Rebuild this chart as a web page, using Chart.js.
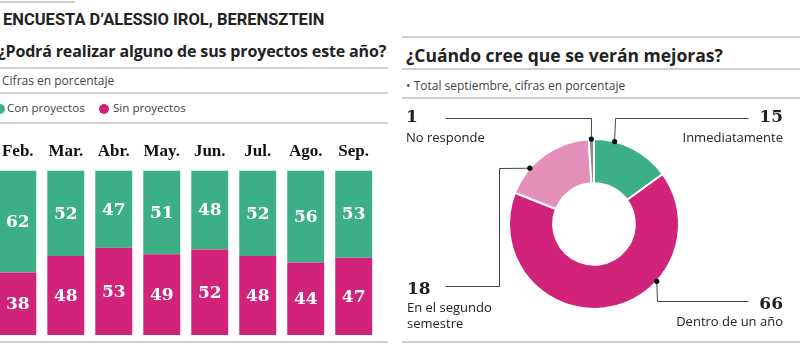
<!DOCTYPE html>
<html>
<head>
<meta charset="utf-8">
<script src="https://cdn.jsdelivr.net/npm/chart.js@4.4.0/dist/chart.umd.min.js"></script>
<style>
  body { margin:0; width:800px; height:345px; background:#fff; position:relative; overflow:hidden; font-family:'Open Sans', sans-serif; color:#222; }
  .abs { position:absolute; white-space:nowrap; }
  .rule { position:absolute; height:1.5px; background:#cfcfcf; }
  .head { font-family:Roboto, sans-serif; font-weight:700; font-size:16.5px; top:10px; left:3px; }
  .q { font-weight:700; }
  .note { font-size:12px; color:#444; }
  .dot { position:absolute; width:10px; height:10px; border-radius:50%; }
  .num { font-family:'DejaVu Serif', serif; font-weight:700; font-size:17px; color:#222; }
  .lab { font-size:13px; color:#222; line-height:16px; }
</style>
</head>
<body>
<div class="rule" style="left:0;top:1px;width:75px;"></div>
<div class="abs head">ENCUESTA D’ALESSIO IROL, BERENSZTEIN</div>

<div class="abs q" style="left:-2px;top:40px;font-size:16px;letter-spacing:-0.15px;">¿Podrá realizar alguno de sus proyectos este año?</div>
<div class="rule" style="left:0;top:67px;width:388px;"></div>
<div class="abs note" style="left:2px;top:72px;">Cifras en porcentaje</div>
<div class="rule" style="left:0;top:92px;width:388px;"></div>
<div class="dot" style="left:-5px;top:104px;background:#3daf87;"></div>
<div class="abs note" style="left:7px;top:100px;font-size:11.6px;">Con proyectos</div>
<div class="dot" style="left:99px;top:104px;background:#d2237a;"></div>
<div class="abs note" style="left:113px;top:100px;font-size:11.6px;">Sin proyectos</div>
<div class="rule" style="left:0;top:122px;width:388px;"></div>
<div class="rule" style="left:0;top:341px;width:388px;"></div>

<div class="rule" style="left:402px;top:36px;width:398px;"></div>
<div class="abs q" style="left:406px;top:43px;font-size:17.5px;">¿Cuándo cree que se verán mejoras?</div>
<div class="rule" style="left:402px;top:68px;width:398px;"></div>
<div class="abs note" style="left:406px;top:77px;">• Total septiembre, cifras en porcentaje</div>
<div class="rule" style="left:402px;top:97px;width:398px;"></div>
<div class="rule" style="left:402px;top:341px;width:398px;"></div>

<div style="position:absolute;left:-7px;top:128px;width:385px;height:212px;"><canvas id="bars"></canvas></div>
<div style="position:absolute;left:400px;top:100px;width:400px;height:242px;"><canvas id="donut"></canvas></div>

<div class="abs num" style="left:406px;top:106px;">1</div>
<div class="abs lab" style="left:406px;top:129px;">No responde</div>
<div class="abs num" style="right:17px;top:106px;">15</div>
<div class="abs lab" style="right:17px;top:129px;">Inmediatamente</div>
<div class="abs num" style="left:407px;top:278px;">18</div>
<div class="abs lab" style="left:407px;top:299px;">En el segundo<br>semestre</div>
<div class="abs num" style="right:17px;top:293px;">66</div>
<div class="abs lab" style="right:17px;top:313px;">Dentro de un año</div>

<script>
const months = ['Feb.', 'Mar.', 'Abr.', 'May.', 'Jun.', 'Jul.', 'Ago.', 'Sep.'];
const conProyectos = [62, 52, 47, 51, 48, 52, 56, 53];
const sinProyectos = [38, 48, 53, 49, 52, 48, 44, 47];

const mejorasLabels = ['Inmediatamente', 'Dentro de un año', 'En el segundo semestre', 'No responde'];
const mejorasValues = [15, 66, 18, 1];

const GREEN = '#3daf87';
const MAGENTA = '#d2237a';
const PINK = '#e490ba';
const GREY = '#8a8a8a';

// white numbers centred in each bar segment
const barValues = {
  id: 'barValues',
  afterDatasetsDraw(chart) {
    const ctx = chart.ctx;
    ctx.save();
    ctx.fillStyle = '#fff';
    ctx.font = 'bold 17px "DejaVu Serif", serif';
    ctx.textAlign = 'center';
    ctx.textBaseline = 'middle';
    chart.data.datasets.forEach((ds, i) => {
      chart.getDatasetMeta(i).data.forEach((bar, j) => {
        ctx.fillText(ds.data[j], bar.x, (bar.y + bar.base) / 2 + 1);
      });
    });
    ctx.restore();
  }
};

new Chart(document.getElementById('bars'), {
  type: 'bar',
  data: {
    labels: months,
    datasets: [
      { label: 'Sin proyectos', data: sinProyectos, backgroundColor: MAGENTA },
      { label: 'Con proyectos', data: conProyectos, backgroundColor: GREEN }
    ]
  },
  options: {
    responsive: true,
    maintainAspectRatio: false,
    animation: false,
    layout: { padding: { top: 4, bottom: 5, left: 0, right: 0 } },
    plugins: { legend: { display: false }, tooltip: { enabled: false } },
    datasets: { bar: { barPercentage: 0.77, categoryPercentage: 1 } },
    scales: {
      x: {
        stacked: true,
        position: 'top',
        grid: { display: false, drawTicks: false },
        border: { display: false },
        ticks: { padding: 9, color: '#111', font: { family: '"Liberation Serif", serif', weight: 'bold', size: 17 } }
      },
      y: { stacked: true, display: false, min: 0, max: 100 }
    }
  },
  plugins: [barValues]
});

// leader lines: [arc index, position inside arc (0..1), bend points in canvas px]
const leaders = [
  [3, 0.5, p => [[p.x, 18], [45, 18]]],
  [0, 0.26, p => [[p.x, 18], [348, 18]]],
  [2, 0.3, p => [[99, p.y], [99, 186], [45, 186]]],
  [1, 0.33, p => [[p.x, 201], [348, 201]]]
];

const leaderLines = {
  id: 'leaderLines',
  afterDatasetsDraw(chart) {
    const ctx = chart.ctx;
    const arcs = chart.getDatasetMeta(0).data;
    ctx.save();
    ctx.strokeStyle = '#444';
    ctx.fillStyle = '#111';
    ctx.lineWidth = 1;
    leaders.forEach(([i, f, path]) => {
      const a = arcs[i];
      const ang = a.startAngle + f * (a.endAngle - a.startAngle);
      const p = { x: a.x + Math.cos(ang) * a.outerRadius, y: a.y + Math.sin(ang) * a.outerRadius };
      ctx.beginPath();
      ctx.moveTo(p.x, p.y);
      path(p).forEach(q => ctx.lineTo(Math.round(q[0]) + 0.5, Math.round(q[1]) + 0.5));
      ctx.stroke();
      ctx.beginPath();
      ctx.arc(p.x, p.y, 2.6, 0, Math.PI * 2);
      ctx.fill();
    });
    ctx.restore();
  }
};

new Chart(document.getElementById('donut'), {
  type: 'doughnut',
  data: {
    labels: mejorasLabels,
    datasets: [{
      data: mejorasValues,
      backgroundColor: [GREEN, MAGENTA, PINK, GREY],
      borderColor: '#fff',
      borderWidth: 2
    }]
  },
  options: {
    responsive: true,
    maintainAspectRatio: false,
    animation: false,
    radius: 85,
    cutout: '48%',
    layout: { padding: { top: 6, right: 12 } },
    plugins: { legend: { display: false }, tooltip: { enabled: false } }
  },
  plugins: [leaderLines]
});
</script>
</body>
</html>
